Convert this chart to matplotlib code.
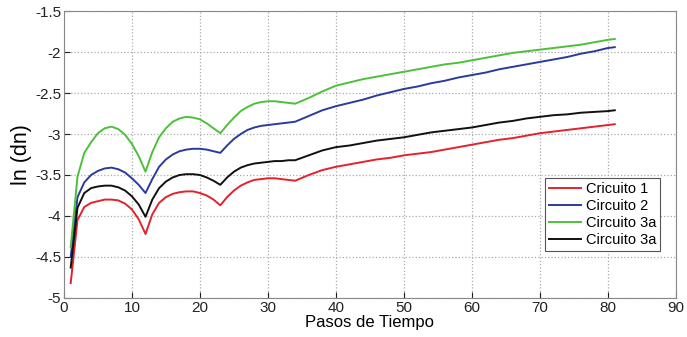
import numpy as np
import matplotlib.pyplot as plt

plt.rcParams['font.family'] = ['Liberation Sans', 'DejaVu Sans']

# Pasos de tiempo (1..34 uno a uno, despues cada 2)
pasos = list(range(1, 35)) + list(range(36, 81, 2)) + [81]

# Cricuito 1 (rojo)
c1 = [-4.82, -4.05, -3.89, -3.84, -3.82, -3.80, -3.80, -3.81, -3.85, -3.92,
      -4.04, -4.22, -3.98, -3.84, -3.77, -3.73, -3.71, -3.70, -3.70, -3.72,
      -3.75, -3.80, -3.87, -3.77, -3.69, -3.63, -3.59, -3.56, -3.55, -3.54,
      -3.54, -3.55, -3.56, -3.57,
      -3.50, -3.44, -3.40, -3.37, -3.34, -3.31, -3.29, -3.26, -3.24, -3.22,
      -3.19, -3.16, -3.13, -3.10, -3.07, -3.05, -3.02, -2.99, -2.97, -2.95,
      -2.93, -2.91, -2.89, -2.88]

# Circuito 2 (azul)
c2 = [-4.50, -3.77, -3.59, -3.50, -3.45, -3.42, -3.41, -3.43, -3.47, -3.54,
      -3.62, -3.72, -3.55, -3.40, -3.31, -3.25, -3.21, -3.19, -3.18, -3.18,
      -3.19, -3.21, -3.23, -3.14, -3.06, -3.00, -2.95, -2.92, -2.90, -2.89,
      -2.88, -2.87, -2.86, -2.85,
      -2.78, -2.71, -2.66, -2.62, -2.58, -2.53, -2.49, -2.45, -2.42, -2.38,
      -2.35, -2.31, -2.28, -2.25, -2.21, -2.18, -2.15, -2.12, -2.09, -2.06,
      -2.02, -1.99, -1.95, -1.94]

# Circuito 3a (verde)
c3 = [-4.38, -3.52, -3.23, -3.10, -2.99, -2.93, -2.91, -2.94, -3.01, -3.12,
      -3.27, -3.46, -3.22, -3.04, -2.93, -2.85, -2.81, -2.79, -2.80, -2.82,
      -2.87, -2.93, -2.99, -2.89, -2.80, -2.72, -2.67, -2.63, -2.61, -2.60,
      -2.60, -2.61, -2.62, -2.63,
      -2.56, -2.48, -2.41, -2.37, -2.33, -2.30, -2.27, -2.24, -2.21, -2.18,
      -2.15, -2.13, -2.10, -2.07, -2.04, -2.01, -1.99, -1.97, -1.95, -1.93,
      -1.91, -1.88, -1.85, -1.84]

# Circuito 3a (negro)
c4 = [-4.63, -3.90, -3.72, -3.66, -3.64, -3.63, -3.63, -3.65, -3.69, -3.76,
      -3.86, -4.01, -3.80, -3.66, -3.58, -3.53, -3.50, -3.49, -3.49, -3.50,
      -3.53, -3.57, -3.62, -3.53, -3.46, -3.41, -3.38, -3.36, -3.35, -3.34,
      -3.33, -3.33, -3.32, -3.32,
      -3.26, -3.20, -3.16, -3.14, -3.11, -3.08, -3.06, -3.04, -3.01, -2.98,
      -2.96, -2.94, -2.92, -2.89, -2.86, -2.84, -2.81, -2.79, -2.77, -2.76,
      -2.74, -2.73, -2.72, -2.71]

nombres = ['Cricuito 1', 'Circuito 2', 'Circuito 3a', 'Circuito 3a']
colores = ['#e3222b', '#2b3a9e', '#4dc03a', '#111111']

fig = plt.figure(figsize=(6.87, 3.37), dpi=100)
ax = fig.add_axes([0.093, 0.116, 0.891, 0.851])

for serie, nombre, color in zip([c1, c2, c3, c4], nombres, colores):
    ax.plot(pasos, serie, color=color, linewidth=1.4, label=nombre)

ax.set_xlim(0, 90)
ax.set_ylim(-5, -1.5)
ax.set_xticks(np.arange(0, 91, 10))
ax.set_yticks(np.arange(-5, -1.49, 0.5))
ax.set_yticklabels(['-5', '-4.5', '-4', '-3.5', '-3', '-2.5', '-2', '-1.5'])
ax.grid(True, linestyle=':', color='#aaaaaa', linewidth=0.9)
ax.tick_params(direction='in', labelsize=11, colors='#222222', length=4, pad=2)
for s in ax.spines.values():
    s.set_color('#888888')

ax.set_xlabel('Pasos de Tiempo', fontsize=12, labelpad=0)
ax.set_ylabel('ln (dn)', fontsize=15.5, labelpad=2)

leg = ax.legend(loc='lower right', bbox_to_anchor=(0.985, 0.138), fontsize=10.5,
                fancybox=False, framealpha=1, edgecolor='#555555',
                handlelength=2.2, borderpad=0.25, labelspacing=0.22, handletextpad=0.3)
leg.get_frame().set_linewidth(0.8)

fig.savefig('out.png', dpi=100)
